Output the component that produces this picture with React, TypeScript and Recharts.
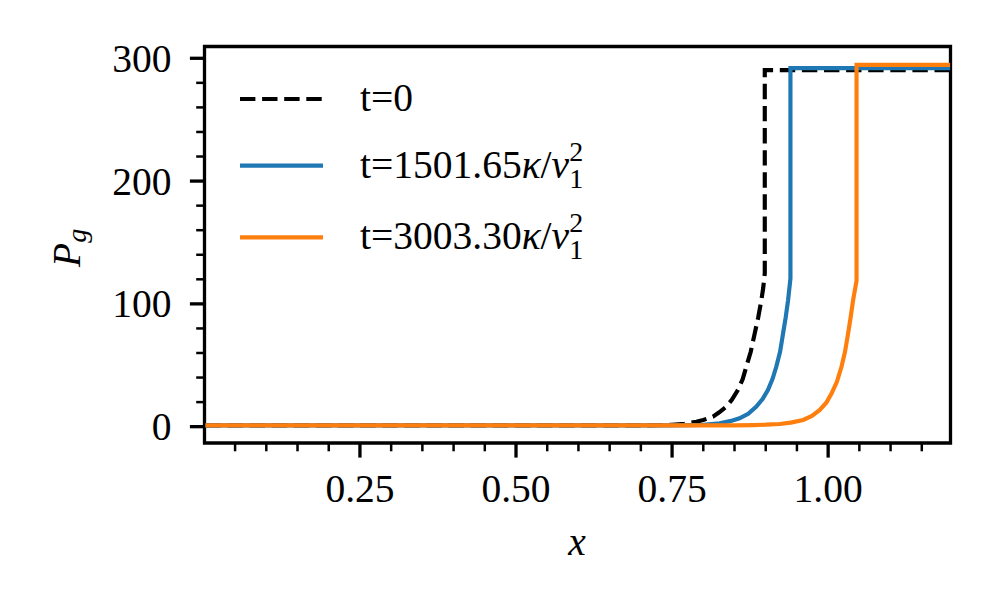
import React from "react";
import { LineChart, Line, XAxis, YAxis, ReferenceArea } from "recharts";

// P_g profiles
const T0_X = [0.0025, 0.7, 0.75, 0.77, 0.789, 0.8, 0.8155, 0.825, 0.837, 0.846, 0.8556, 0.863, 0.869, 0.876, 0.8824, 0.888, 0.893, 0.896, 0.8985, 0.8985, 1.1955];
const T0_P = [1, 1, 1.5, 2.4, 4, 5.5, 8.1, 11.5, 16.3, 22, 30, 38.5, 49, 61, 76, 89, 103, 113, 125, 290.4, 290.4];

const T1_X = [0.0025, 0.75, 0.8, 0.826, 0.843, 0.858, 0.872, 0.885, 0.895, 0.9037, 0.911, 0.917, 0.923, 0.9278, 0.932, 0.9358, 0.9396, 0.9396, 1.1955];
const T1_P = [1, 1, 1.5, 2.8, 4.5, 6.8, 10.5, 16.3, 22.5, 30, 39, 49, 61, 76, 89, 103, 120.6, 292, 292];

const T2_X = [0.0025, 0.8, 0.85, 0.88, 0.9, 0.9225, 0.94, 0.96, 0.974, 0.9866, 0.997, 1.0054, 1.014, 1.0215, 1.027, 1.032, 1.036, 1.04, 1.0455, 1.0455, 1.1955];
const T2_P = [1, 1, 1.1, 1.3, 1.6, 2.2, 3.3, 5.5, 8.8, 13.6, 19.5, 27, 36.5, 49, 61, 76, 89, 103, 119, 294.6, 294.6];

const X_TICKS = [0.05, 0.1, 0.15, 0.2, 0.25, 0.3, 0.35, 0.4, 0.45, 0.5, 0.55, 0.6, 0.65, 0.7, 0.75, 0.8, 0.85, 0.9, 0.95, 1.0, 1.05, 1.1, 1.15];
const X_MAJOR = [0.25, 0.5, 0.75, 1.0];
const Y_TICKS = [0, 20, 40, 60, 80, 100, 120, 140, 160, 180, 200, 220, 240, 260, 280, 300];
const Y_MAJOR = [0, 100, 200, 300];

const X_DOMAIN = [0.001, 1.196];
const Y_DOMAIN = [-13.3, 309.6];

const zip = (xs: number[], ps: number[]) => xs.map((x, i) => ({ x, p: ps[i] }));
const t0 = zip(T0_X, T0_P);
const t1 = zip(T1_X, T1_P);
const t2 = zip(T2_X, T2_P);

const FONT = "Liberation Serif";
const FS = 39.5;
const SFS = 28;

const XTick = (props: any) => {
  const { x, y, payload } = props;
  const major = X_MAJOR.includes(payload.value);
  return (
    <g>
      <line x1={x} x2={x} y1={y} y2={y + (major ? 14.6 : 8.3)} stroke="#000" strokeWidth={major ? 3.3 : 2.5} />
      {major && (
        <text x={x} y={y + 59} textAnchor="middle" fontFamily={FONT} fontSize={FS} fill="#000">
          {payload.value.toFixed(2)}
        </text>
      )}
    </g>
  );
};

const YTick = (props: any) => {
  const { x, y, payload } = props;
  const major = Y_MAJOR.includes(payload.value);
  return (
    <g>
      <line x1={x} x2={x - (major ? 14.6 : 8.3)} y1={y} y2={y} stroke="#000" strokeWidth={major ? 3.3 : 2.5} />
      {major && (
        <text x={x - 33} y={y + 13.5} textAnchor="end" fontFamily={FONT} fontSize={FS} fill="#000">
          {payload.value}
        </text>
      )}
    </g>
  );
};

// stacked superscript 2 / subscript 1 after v
const SupSub = () => (
  <span style={{ position: "relative", display: "inline-block", width: 15, height: 0 }}>
    <span style={{ position: "absolute", left: 0, top: -35.8, fontSize: SFS, lineHeight: "20px" }}>2</span>
    <span style={{ position: "absolute", left: 0, top: -9.1, fontSize: SFS, lineHeight: "20px" }}>1</span>
  </span>
);

const legendRows = [
  { y: 99, label: "t=0", color: "#000", dash: "15.4 6.7", math: false },
  { y: 165.7, label: "t=1501.65", color: "#1f77b4", dash: undefined, math: true },
  { y: 237.3, label: "t=3003.30", color: "#ff7f0e", dash: undefined, math: true },
];

export default function App() {
  return (
    <div style={{ position: "absolute", left: 0, top: 0, width: 996, height: 615, background: "#fff" }}>
      <LineChart width={996} height={615} margin={{ top: 46.5, right: 45.5, bottom: 0, left: 0 }}>
        <XAxis
          dataKey="x"
          type="number"
          domain={X_DOMAIN}
          allowDataOverflow
          ticks={X_TICKS}
          interval={0}
          tickSize={0}
          tickMargin={0}
          tickLine={false}
          tick={<XTick />}
          height={172}
          axisLine={false}
        />
        <YAxis
          type="number"
          domain={Y_DOMAIN}
          allowDataOverflow
          ticks={Y_TICKS}
          interval={0}
          tickSize={0}
          tickMargin={0}
          tickLine={false}
          tick={<YTick />}
          width={204.5}
          axisLine={false}
        />
        <Line data={t0} dataKey="p" type="linear" stroke="#000" strokeWidth={4.17} strokeDasharray="15.4 6.7" dot={false} activeDot={false} isAnimationActive={false} />
        <Line data={t1} dataKey="p" type="linear" stroke="#1f77b4" strokeWidth={4.17} dot={false} activeDot={false} isAnimationActive={false} />
        <Line data={t2} dataKey="p" type="linear" stroke="#ff7f0e" strokeWidth={4.17} dot={false} activeDot={false} isAnimationActive={false} />
        <ReferenceArea
          x1={X_DOMAIN[0]}
          x2={X_DOMAIN[1]}
          y1={Y_DOMAIN[0]}
          y2={Y_DOMAIN[1]}
          ifOverflow="visible"
          fill="none"
          fillOpacity={0}
          stroke="#000"
          strokeWidth={3.3}
        />
      </LineChart>

      <svg width={996} height={615} style={{ position: "absolute", left: 0, top: 0, pointerEvents: "none" }}>
        {legendRows.map((r) => (
          <line key={r.label} x1={240} x2={323} y1={r.y} y2={r.y} stroke={r.color} strokeWidth={4.17} strokeDasharray={r.dash} />
        ))}
        <text x={577} y={555} textAnchor="middle" fontFamily={FONT} fontSize={FS} fontStyle="italic" fill="#000">x</text>
        <text transform="translate(80,267) rotate(-90)" fontFamily={FONT} fontSize={FS} fill="#000">
          <tspan fontStyle="italic">P</tspan>
          <tspan fontStyle="italic" fontSize={SFS} dy={6}>g</tspan>
        </text>
      </svg>

      {legendRows.map((r) => (
        <div
          key={r.label}
          style={{
            position: "absolute",
            left: 360,
            top: r.y + 13 - 0.8375 * FS,
            fontFamily: FONT,
            fontSize: FS,
            lineHeight: `${FS}px`,
            whiteSpace: "nowrap",
            color: "#000",
          }}
        >
          {r.label}
          {r.math && (
            <>
              <i>κ</i>/<i>v</i>
              <SupSub />
            </>
          )}
        </div>
      ))}
    </div>
  );
}
